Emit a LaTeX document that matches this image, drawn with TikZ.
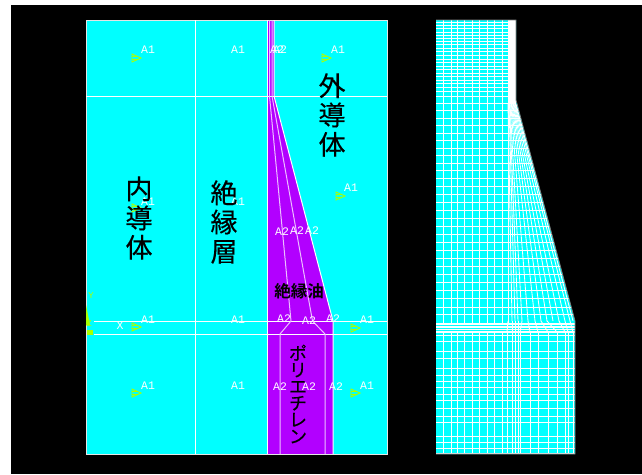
\documentclass[tikz,border=0pt]{standalone}
\usepackage{fontspec}
\newfontfamily\cjk[FakeBold=0.3]{Noto Sans CJK JP}
\newfontfamily\cjkb{Noto Sans CJK JP Bold}
\setmainfont{Liberation Mono}
\definecolor{meshcyan}{RGB}{0,255,255}
\definecolor{oilpurple}{RGB}{178,0,255}
\definecolor{tri}{RGB}{170,255,0}
\tikzset{
  lbl/.style={text=white,font=\fontsize{11.5}{11.5}\selectfont,inner sep=0pt},
  big/.style={text=black,font=\cjk\fontsize{27}{29.3}\selectfont,align=center,inner sep=0pt},
  wline/.style={draw=white,line width=1pt},
  pline/.style={draw=white!75!oilpurple,line width=1pt},
  mesh/.style={draw=white,line width=0.85pt},
  trimark/.style={draw=tri,line width=0.9pt}
}
\newcommand{\tmark}[2]{\draw[trimark] (#1-4,#2-4) -- (#1+5,#2) -- (#1-4,#2+4) -- cycle (#1-4,#2-1.5) -- (#1+2,#2-1.5) (#1-4,#2+1.5) -- (#1+2,#2+1.5);}
\begin{document}
\begin{tikzpicture}[x=1pt,y=-1pt]
\useasboundingbox (0,0) rectangle (642,474);
\fill[white] (0,0) rectangle (642,474);
\fill[black] (11,5) rectangle (642,474);
% left model
\fill[meshcyan] (86,20) rectangle (387,454);
\fill[oilpurple] (267,20) -- (274,20) -- (274,96) -- (333,321) -- (333,454) -- (267,454) -- cycle;
\draw[draw=white!80!gray,line width=1pt] (86,20) rectangle (387,454);
\draw[wline] (195,20) -- (195,454);
\draw[wline] (86,96) -- (387,96);
\draw[wline] (94,321) -- (387,321);
\draw[wline] (94,334) -- (387,334);
\draw[wline] (267,20) -- (267,454);
\draw[wline] (274,20) -- (274,96) -- (333,321) -- (333,454);
\draw[pline] (269.5,20) -- (269.5,96) -- (291,321);
\draw[pline] (272,20) -- (272,96) -- (312.5,321);
\draw[pline] (291,321) -- (280,334) -- (280,454);
\draw[pline] (312.5,321) -- (325,334) -- (325,454);
% triangles
\tmark{136}{58}\tmark{326}{58}\tmark{340}{196}\tmark{136}{327}\tmark{355}{328}\tmark{136}{393}\tmark{355}{393}\tmark{136}{208}
% axis
\fill[tri] (86,305) -- (90,325) -- (86,325) -- cycle;
\fill[tri] (87,330) rectangle (93,335);
\node[text=tri,font=\fontsize{9}{9}\selectfont,inner sep=0] (yl) at (91,296) {Y};
\node[text=tri,font=\fontsize{9}{9}\selectfont,inner sep=0] (zl) at (89,324) {Z};
\node[lbl] (xl) at (120,326) {X};
% labels
\foreach \n/\x/\y/\t in {a/148/50/A1,b/238/50/A1,c/338/50/A1,d/148/202/A1,e/238/202/A1,f/351/188/A1,g/148/320/A1,h/238/320/A1,i/367/320/A1,j/148/386/A1,k/238/386/A1,l/367/386/A1,
 m/282/232/A2,n/297/231/A2,o/312/231/A2,p/284/319/A2,q/309/321/A2,r/333/319/A2,s/280/387/A2,t/309/387/A2,u/336/387/A2,v/277/50/A2,w/280/50/A2}
 \node[lbl] (\n) at (\x,\y) {\t};
% big text
\node[big] (t1) at (139,218) {内\\導\\体};
\node[big] (t2) at (224,222) {絶\\縁\\層};
\node[big] (t3) at (332,115) {外\\導\\体};
\node[text=black,font=\cjkb\fontsize{16.5}{16.5}\selectfont,inner sep=0pt] (t4) at (299,291) {絶縁油};
\node[text=black,font=\cjk\fontsize{18}{16.6}\selectfont,align=center,inner sep=0pt] (t5) at (298,394) {ポ\\リ\\エ\\チ\\レ\\ン};
% right mesh
\fill[meshcyan] (436,20) -- (516,20) -- (516,100) -- (575,321) -- (575,454) -- (436,454) -- cycle;
\fill[white] (508,20) rectangle (516,104);
\foreach \x in {443,451,457,464,472,479,487,494,502,508}
  \draw[mesh] (\x,20) -- (\x,323);
\foreach \y in {22,25,28,32,35,38,41,44,48,51,55,59,62,66,69,73,76,80,83,87,91,96,103,110,118,125,133,140,148,155,163,170,178,186,194,202,210,218,226,234,242,250,258,266,274,282,290,298,307,314}
  \draw[mesh] (436,\y) -- (508,\y);
% tapered part
\foreach \a/\b in {508/512,509/515,509.5/518,510/522,510.7/528,511.3/535,512/541,512.7/547,513.3/553,514/559,514.7/565,515.3/570,516/573}
  \draw[mesh] (\a,104) -- (\b,321);
\foreach \y in {110,118,125,133,140,148,155,163,170,178,186,194,202,210,218,226,234,242,250,258,266,274,282,290,298,307,314}
  \draw[mesh] (508,\y) -- ({516+(\y-100)*59/221},\y);
% lower part
\foreach \y in {323,324.5,326,327.5,329,331,332.5,335,341,351,358,368,375,381,387,394,400,408,416,422,436,442,448,453}
  \draw[mesh] (436,\y) -- (575,\y);
\foreach \x in {443,451,457,464,472,479,487,494,502,507,512,515,518,520,530,538,548,557,565,568,573}
  \draw[mesh] (\x,332) -- (\x,454);
\foreach \a/\b in {507/508,512/512,515/515,518/518,520/522,530/528,538/535,548/541,557/547}
  \draw[mesh] (\a,332) -- (\b,321);
\foreach \a/\b in {565/559,568/565,573/570}
  \draw[mesh] (\a,332) -- (\b,321);
\draw[draw=gray,line width=0.8pt] (436,454) -- (575,454) -- (575,321) -- (516,100) -- (516,20) -- (436,20);
\end{tikzpicture}
\end{document}
